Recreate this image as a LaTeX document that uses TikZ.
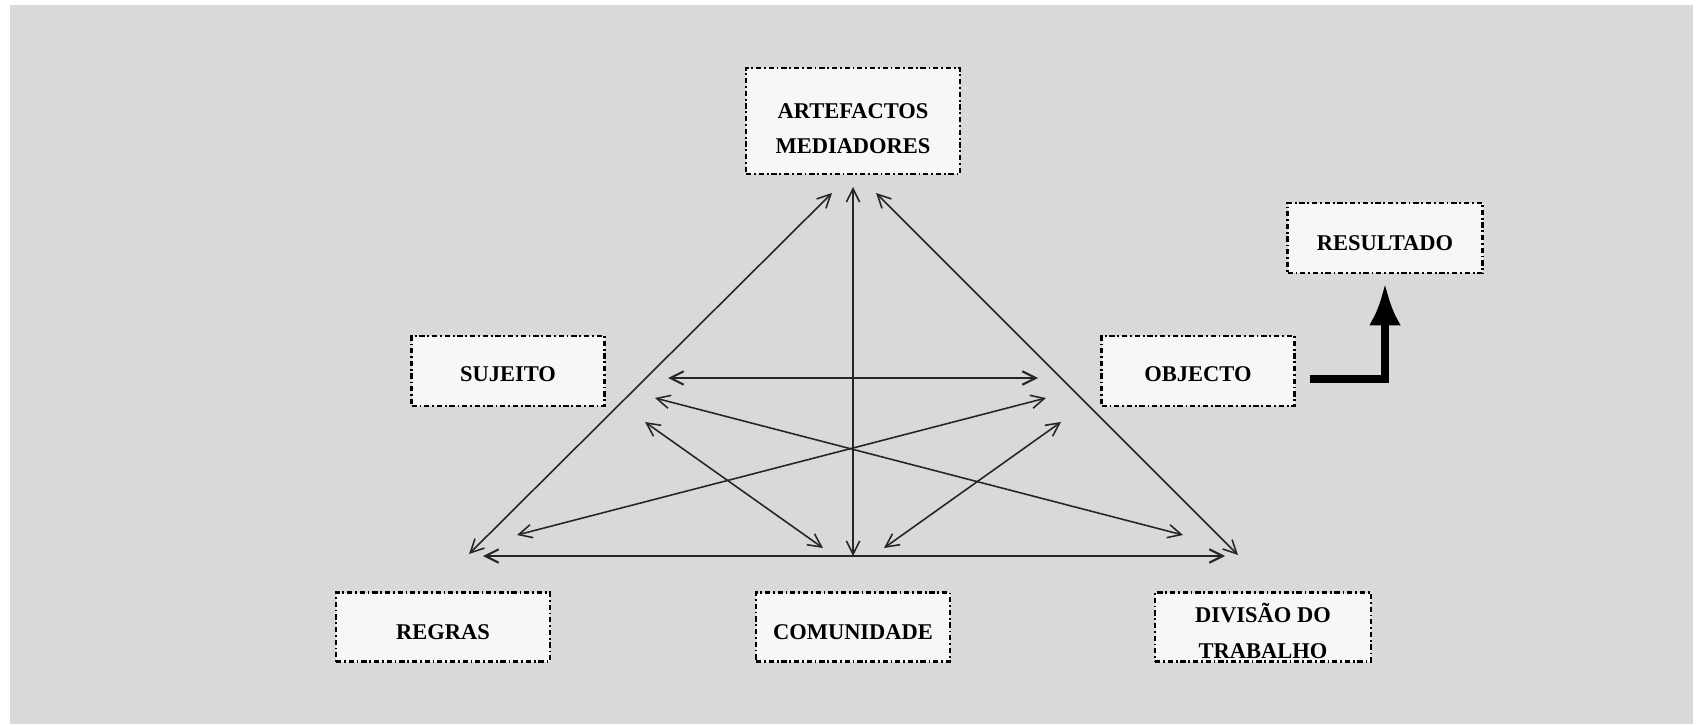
\documentclass[tikz,border=0pt]{standalone}
\usepackage{fontspec}
\setmainfont{Liberation Serif}
\usetikzlibrary{arrows.meta}
\definecolor{fondo}{HTML}{D9D9D9}
\definecolor{caja}{HTML}{F7F7F7}

\begin{document}
\begin{tikzpicture}[
    caja/.style={draw=black, fill=caja, line width=0.65pt,
      dash pattern=on 1.5pt off 0.8pt on 0.5pt off 0.8pt,
      minimum height=0.70cm, inner sep=0pt, align=center,
      execute at begin node={\rule{0pt}{#1}},
      font=\fontsize{6.4}{10}\selectfont\bfseries},
    caja/.default=7.2pt,
    flecha/.style={<->, line width=0.45pt, black!85},
    >={Straight Barb[length=3.8pt,width=3.8pt]}
  ]
    % Fondo
    \useasboundingbox (0,0) rectangle (17.01,7.24);
    \fill[fondo] (0.10,0) rectangle (16.93,7.19);
    % Cajas
    \node[caja=0pt, minimum width=2.14cm, minimum height=1.06cm] (art) at (8.53,6.03) {\rule{0pt}{8.6pt}ARTEFACTOS\\MEDIADORES};
    \node[caja, minimum width=1.95cm] (res) at (13.85,4.86) {RESULTADO};
    \node[caja=6.1pt, minimum width=1.93cm] (suj) at (5.08,3.53) {SUJEITO};
    \node[caja=6.1pt, minimum width=1.93cm] (obj) at (11.98,3.53) {OBJECTO};
    \node[caja, minimum width=2.14cm, minimum height=0.69cm] (reg) at (4.43,0.97) {REGRAS};
    \node[caja, minimum width=1.94cm, minimum height=0.69cm] (com) at (8.53,0.97) {COMUNIDADE};
    \node[caja=0pt, minimum width=2.16cm, minimum height=0.69cm] (div) at (12.63,0.97) {\rule{0pt}{7.7pt}DIVISÃO DO\\TRABALHO};
    % Puntos
    \coordinate (t) at (8.53,5.37);
    \coordinate (tl) at (8.32,5.31);
    \coordinate (tr) at (8.76,5.31);
    \coordinate (bl) at (4.69,1.70);
    \coordinate (br) at (12.38,1.69);
    \coordinate (hl) at (4.83,1.68);
    \coordinate (hr) at (12.25,1.68);
    \coordinate (m) at (8.53,1.68);
    \coordinate (il) at (6.68,3.46);
    \coordinate (ir) at (10.38,3.46);
    \coordinate (xl) at (6.55,3.26);
    \coordinate (xr) at (10.46,3.26);
    \coordinate (yl) at (5.17,1.89);
    \coordinate (yr) at (11.83,1.89);
    \coordinate (sl) at (6.45,3.02);
    \coordinate (sr) at (10.61,3.02);
    \coordinate (ml) at (8.23,1.76);
    \coordinate (mr) at (8.84,1.76);
    % Líneas
    \draw[flecha] (tl) -- (bl);
    \draw[flecha] (tr) -- (br);
    \draw[flecha] (m) -- (t);
    \draw[flecha, line width=0.6pt] (hl) -- (hr);
    \draw[flecha, line width=0.6pt] (il) -- (ir);
    \draw[flecha] (xl) -- (yr);
    \draw[flecha] (xr) -- (yl);
    \draw[flecha] (sl) -- (ml);
    \draw[flecha] (sr) -- (mr);
    % Resultado
    \draw[line width=2.3pt, -{Latex[length=12pt,width=9pt]}]
      ([shift={(0.14,-0.08)}]obj.east) -| ([yshift=-0.09cm]res.south);
  \end{tikzpicture}
\end{document}
